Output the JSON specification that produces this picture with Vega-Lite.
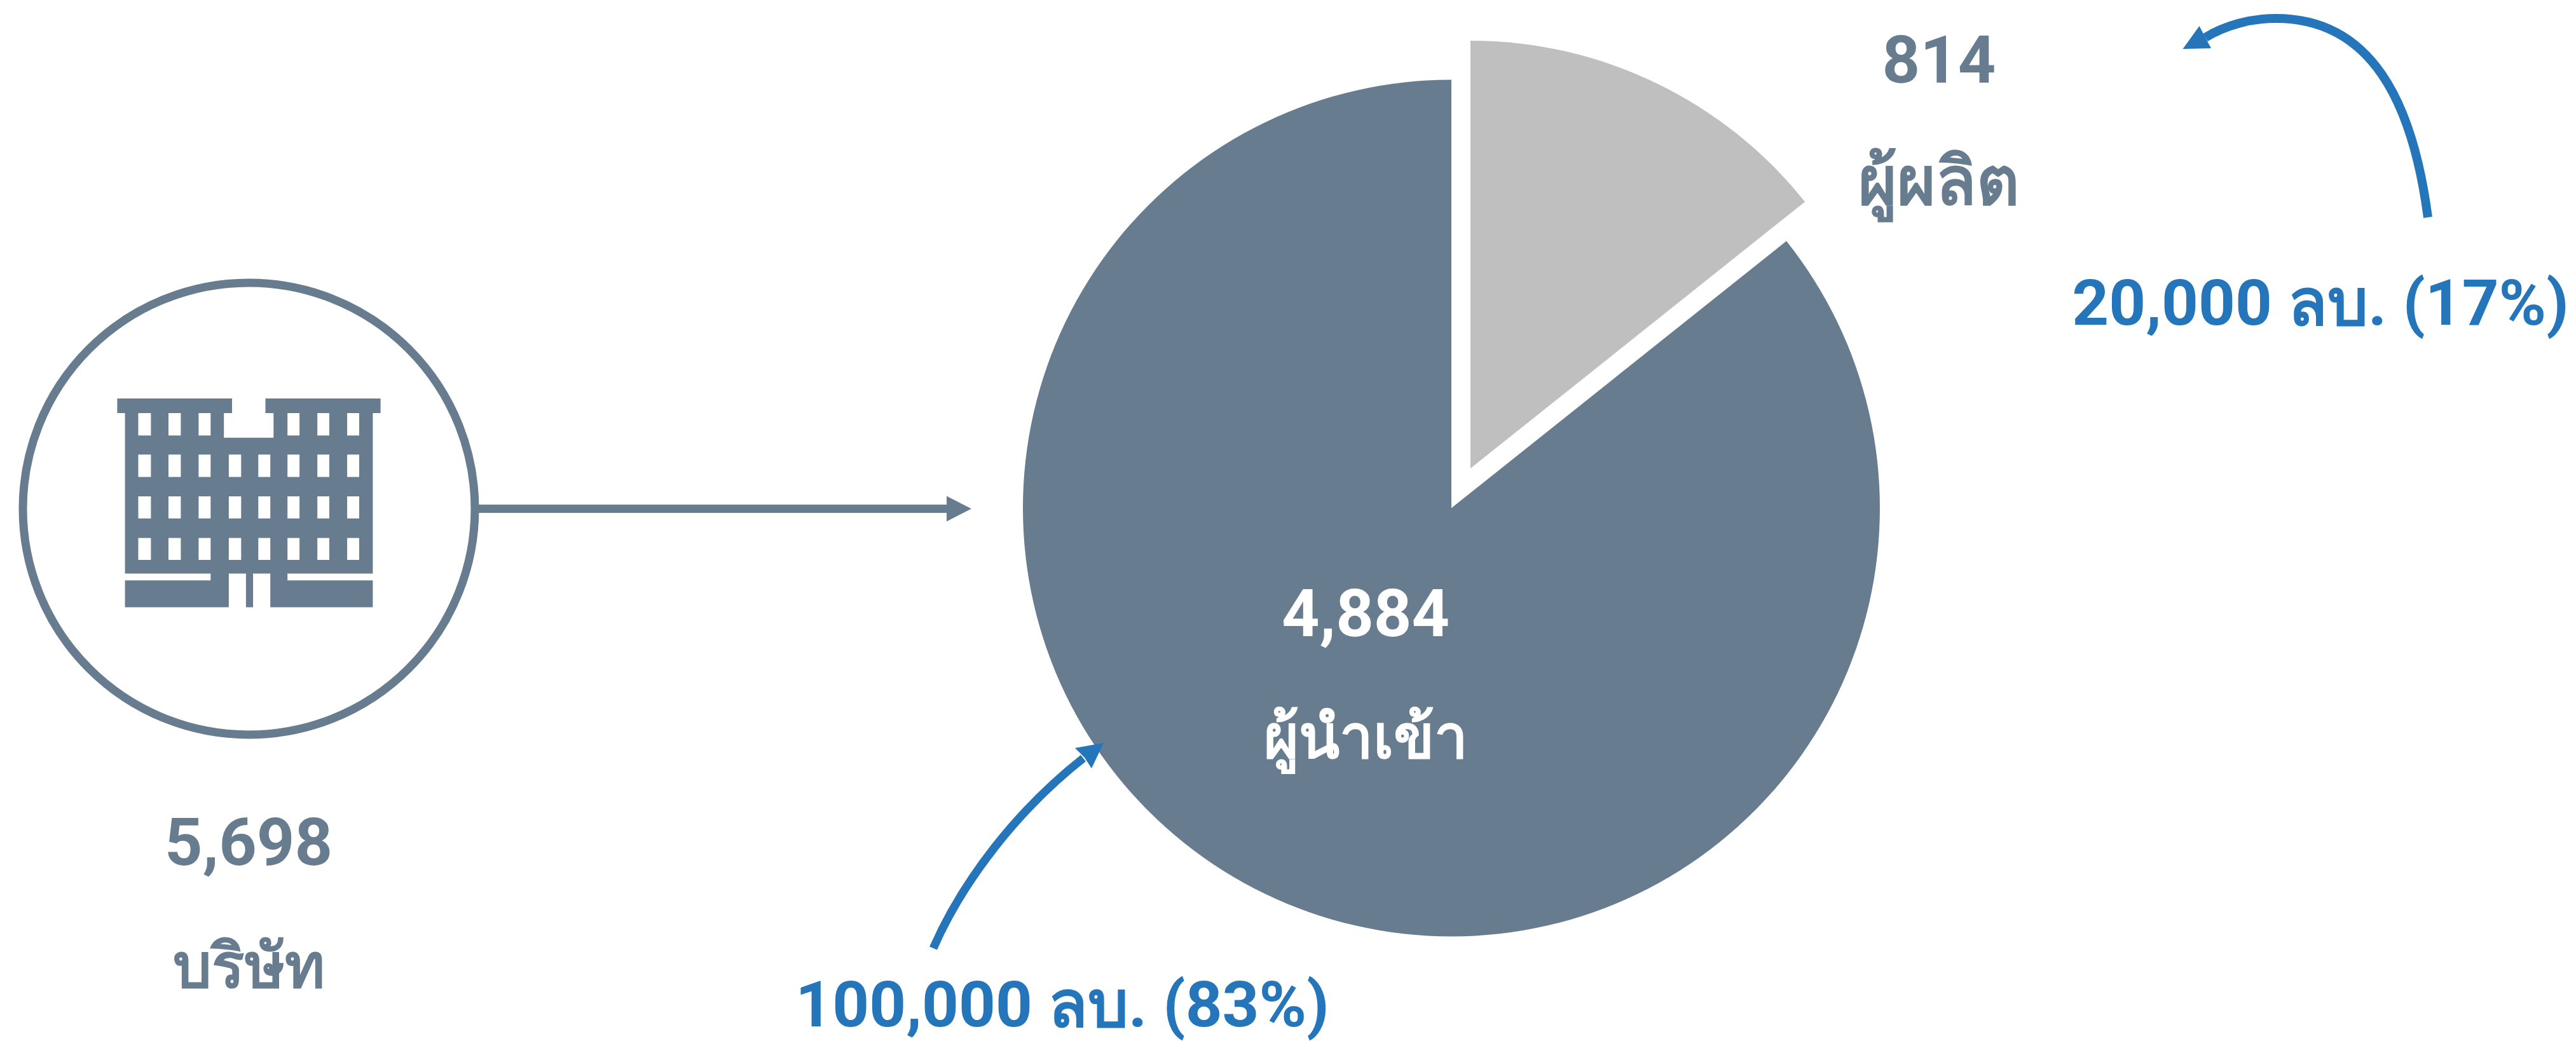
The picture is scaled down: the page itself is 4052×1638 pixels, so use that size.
{"$schema":"https://vega.github.io/schema/vega-lite/v6.json","width":4052,"height":1638,"autosize":{"type":"none"},"padding":0,"background":"white","config":{"view":{"stroke":null},"axis":{"disable":true},"legend":{"disable":true},"text":{"font":"Roboto, 'Noto Sans', sans-serif","fontWeight":"bold","fontSize":104,"align":"center","baseline":"alphabetic"}},"datasets":{"firms":[{"group":"ผู้ผลิต","firms":814},{"group":"ผู้นำเข้า","firms":4884}]},"layer":[
{"data":{"name":"firms"},"transform":[{"stack":"firms","sort":[{"field":"firms","order":"ascending"}],"as":["v0","v1"]},{"filter":"datum.group === 'ผู้นำเข้า'"}],"mark":{"type":"arc","outerRadius":674,"fill":"#687C90"},"encoding":{"x":{"datum":2283,"scale":{"domain":[0,4052],"range":[0,4052],"nice":false,"zero":false}},"y":{"datum":799.5,"scale":{"domain":[0,1638],"range":[0,1638],"nice":false,"zero":false}},"theta":{"field":"v0","type":"quantitative","scale":{"domain":[0,5698],"range":[0,6.283185]}},"theta2":{"field":"v1"}}},
{"data":{"name":"firms"},"transform":[{"stack":"firms","sort":[{"field":"firms","order":"ascending"}],"as":["v0","v1"]},{"filter":"datum.group === 'ผู้ผลิต'"}],"mark":{"type":"arc","outerRadius":673,"fill":"#BFBFBF"},"encoding":{"x":{"datum":2313},"y":{"datum":737},"theta":{"field":"v0","type":"quantitative"},"theta2":{"field":"v1"}}},
{"data":{"values":[{"item":"company circle"}]},"mark":{"type":"point","shape":"circle","size":505521,"filled":false,"stroke":"#687C90","strokeWidth":13,"opacity":1},"encoding":{"x":{"datum":391.5},"y":{"datum":800.5}}},
{"data":{"values":[{"item":"building"}]},"mark":{"type":"point","filled":true,"size":4,"fill":"#687C90","strokeWidth":0,"opacity":1,"shape":"M-207.1,-173.5H-26.5V-150.5H-39.3V-111.7H38.8V-150.5H26V-173.5H207.1V-150.5H194.9V102H60.7V112.8H194.9V155.1H33.7V102H6.6V155.1H-4.6V102H-31.6V155.1H-194.9V112.8H-60.2V102H-194.9V-150.5H-207.1ZM-174,-150.5V-115.3H-154.1V-150.5ZM-126.5,-150.5V-115.3H-107.1V-150.5ZM-79.1,-150.5V-115.3H-60.2V-150.5ZM60.7,-150.5V-115.3H79.6V-150.5ZM107.7,-150.5V-115.3H126.5V-150.5ZM154.6,-150.5V-115.3H173.5V-150.5ZM-174,-85.2V-50H-154.1V-85.2ZM-126.5,-85.2V-50H-107.1V-85.2ZM-79.1,-85.2V-50H-60.2V-85.2ZM-31.6,-85.2V-50H-12.2V-85.2ZM14.8,-85.2V-50H33.7V-85.2ZM60.7,-85.2V-50H79.6V-85.2ZM107.7,-85.2V-50H126.5V-85.2ZM154.6,-85.2V-50H173.5V-85.2ZM-174,-19.4V15.3H-154.1V-19.4ZM-126.5,-19.4V15.3H-107.1V-19.4ZM-79.1,-19.4V15.3H-60.2V-19.4ZM-31.6,-19.4V15.3H-12.2V-19.4ZM14.8,-19.4V15.3H33.7V-19.4ZM60.7,-19.4V15.3H79.6V-19.4ZM107.7,-19.4V15.3H126.5V-19.4ZM154.6,-19.4V15.3H173.5V-19.4ZM-174,45.9V80.6H-154.1V45.9ZM-126.5,45.9V80.6H-107.1V45.9ZM-79.1,45.9V80.6H-60.2V45.9ZM-31.6,45.9V80.6H-12.2V45.9ZM14.8,45.9V80.6H33.7V45.9ZM60.7,45.9V80.6H79.6V45.9ZM107.7,45.9V80.6H126.5V45.9ZM154.6,45.9V80.6H173.5V45.9Z"},"encoding":{"x":{"datum":391.5},"y":{"datum":800.5}}},
{"data":{"values":[{"item":"flow line"}]},"mark":{"type":"rule","stroke":"#687C90","strokeWidth":13},"encoding":{"x":{"datum":753},"x2":{"datum":1492},"y":{"datum":800.5}}},
{"data":{"values":[{"item":"flow head"}]},"mark":{"type":"point","filled":true,"size":4,"fill":"#687C90","strokeWidth":0,"opacity":1,"shape":"M-39,-20L0,0L-39,20Z"},"encoding":{"x":{"datum":1528},"y":{"datum":800.5}}},
{"data":{"values":[{"item":"importer curve"}]},"mark":{"type":"point","filled":false,"size":4,"stroke":"#2475BA","strokeWidth":13,"opacity":1,"shape":"M-132,192C-85,85,0,-25,104,-107"},"encoding":{"x":{"datum":1600},"y":{"datum":1300}}},
{"data":{"values":[{"item":"importer head"}]},"mark":{"type":"point","filled":true,"size":4,"fill":"#2475BA","strokeWidth":0,"opacity":1,"shape":"M91,-123L136,-131L117,-91L106,-108Z"},"encoding":{"x":{"datum":1600},"y":{"datum":1300}}},
{"data":{"values":[{"item":"producer curve"}]},"mark":{"type":"point","filled":false,"size":4,"stroke":"#2475BA","strokeWidth":14,"opacity":1,"shape":"M219,142C195,-40,130,-171,-20,-171C-60,-171,-100,-160,-131,-141"},"encoding":{"x":{"datum":3600},"y":{"datum":200}}},
{"data":{"values":[{"item":"producer head"}]},"mark":{"type":"point","filled":true,"size":4,"fill":"#2475BA","strokeWidth":0,"opacity":1,"shape":"M-166.5,-123L-140.5,-159L-131,-141L-122,-124Z"},"encoding":{"x":{"datum":3600},"y":{"datum":200}}},
{"data":{"values":[{"label":"5,698"}]},"mark":{"type":"text","fill":"#687C90"},"encoding":{"text":{"field":"label"},"x":{"datum":391},"y":{"datum":1361}}},
{"data":{"values":[{"label":"บริษัท"}]},"mark":{"type":"text","fill":"#687C90","fontSize":96},"encoding":{"text":{"field":"label"},"x":{"datum":391},"y":{"datum":1553}}},
{"data":{"values":[{"label":"4,884"}]},"mark":{"type":"text","fill":"white"},"encoding":{"text":{"field":"label"},"x":{"datum":2148},"y":{"datum":1001}}},
{"data":{"values":[{"label":"ผู้นำเข้า"}]},"mark":{"type":"text","fill":"white","fontSize":94},"encoding":{"text":{"field":"label"},"x":{"datum":2148},"y":{"datum":1192}}},
{"data":{"values":[{"label":"814"}]},"mark":{"type":"text","fill":"#687C90"},"encoding":{"text":{"field":"label"},"x":{"datum":3050},"y":{"datum":129.5}}},
{"data":{"values":[{"label":"ผู้ผลิต"}]},"mark":{"type":"text","fill":"#687C90"},"encoding":{"text":{"field":"label"},"x":{"datum":3050},"y":{"datum":321}}},
{"data":{"values":[{"label":"20,000 ลบ. (17%)"}]},"mark":{"type":"text","fill":"#2475BA","fontSize":101},"encoding":{"text":{"field":"label"},"x":{"datum":3650},"y":{"datum":510.5}}},
{"data":{"values":[{"label":"100,000 ลบ. (83%)"}]},"mark":{"type":"text","fill":"#2475BA","fontSize":101},"encoding":{"text":{"field":"label"},"x":{"datum":1671},"y":{"datum":1614.5}}}
]}
